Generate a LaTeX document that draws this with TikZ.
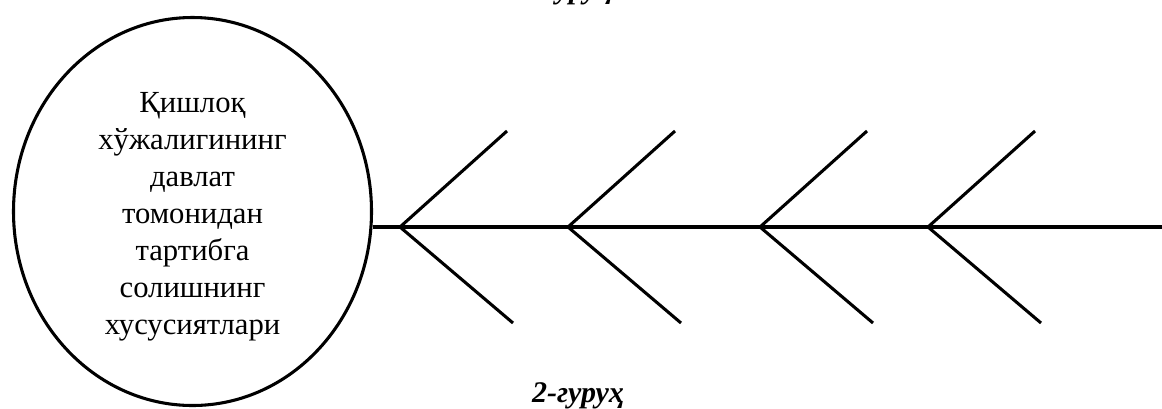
\documentclass[tikz,border=0pt]{standalone}
\usepackage{fontspec}
\setmainfont{Liberation Serif}
\usetikzlibrary{shapes.geometric, positioning}

\tikzset{
  bone/.style={line width=2.3pt},
  group label/.style={font=\fontsize{22.5}{26}\selectfont\bfseries\itshape, anchor=base}
}

\begin{document}
\begin{tikzpicture}[x=0.75pt, y=-0.75pt, line width=2.3pt]
\useasboundingbox (0,0) rectangle (1162,408);

% Head of the diagram
\node[ellipse, draw, line width=2.3pt, minimum width=268.5pt, minimum height=291pt, inner sep=0pt] (focus) at (192.5,211.5) {};
\node[align=center, font=\fontsize{23}{27.8}\selectfont] (focustext) at (192.5,216.5)
  {Қишлоқ\\хўжалигининг\\давлат\\томонидан\\тартибга\\солишнинг\\хусусиятлари};

% Group labels
\node[group label] (group1) at (566,-1.5) {1-гуруҳ};
\node[group label] (group2) at (578,402) {2-гуруҳ};

% Spine
\coordinate (head) at (1162,227);
\draw[bone] (head -| focus.east) -- (head);

% Bones
\foreach \x [count=\i] in {400,568,760,928} {
  \coordinate (joint\i) at (\x,227);
  \coordinate (up\i) at (\x+107,131);
  \coordinate (down\i) at (\x+113,323);
  \draw[bone] (joint\i) -- (up\i);
  \draw[bone] (joint\i) -- (down\i);
}

\end{tikzpicture}
\end{document}
